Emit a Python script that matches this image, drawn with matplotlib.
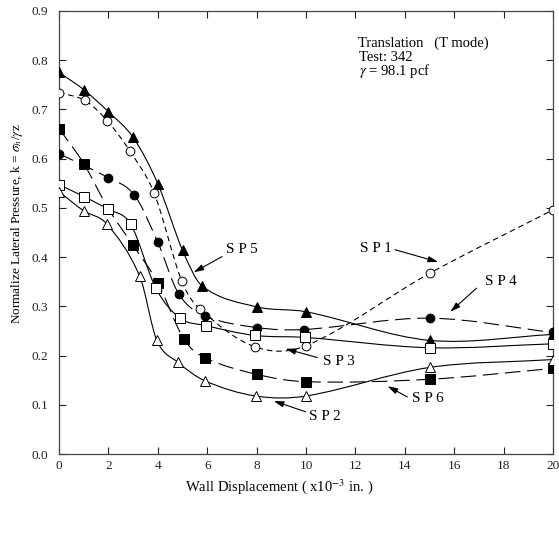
import matplotlib
matplotlib.use("Agg")
import matplotlib.pyplot as plt
import numpy as np
from matplotlib.path import Path
from matplotlib.patches import PathPatch

plt.rcParams['font.family'] = ['Liberation Serif', 'DejaVu Serif']
plt.rcParams['mathtext.fontset'] = 'stix'

# Data
sp5_x = [0, 1, 2, 3, 4, 5, 5.8, 8, 10, 15, 20]
sp5_y = [0.775, 0.74, 0.695, 0.643, 0.549, 0.414, 0.341, 0.299, 0.289, 0.231, 0.243]

sp1_x = [0, 1.05, 1.95, 2.87, 3.85, 4.97, 5.7, 7.92, 10, 15, 20]
sp1_y = [0.734, 0.718, 0.677, 0.615, 0.53, 0.351, 0.295, 0.218, 0.22, 0.367, 0.496]

sp4_x = [0, 2, 3.05, 4, 4.85, 5.9, 8, 9.9, 15, 20]
sp4_y = [0.61, 0.561, 0.526, 0.43, 0.325, 0.281, 0.257, 0.253, 0.276, 0.247]

sp6_x = [0, 1, 2, 3, 4, 5.05, 5.9, 8, 10, 15, 20]
sp6_y = [0.661, 0.59, 0.498, 0.424, 0.348, 0.234, 0.196, 0.162, 0.147, 0.152, 0.174]

sp3_x = [0, 1, 2, 2.9, 3.92, 4.9, 5.94, 7.92, 9.95, 15, 20]
sp3_y = [0.547, 0.523, 0.497, 0.467, 0.337, 0.276, 0.261, 0.241, 0.237, 0.216, 0.224]

sp2_x = [0, 1, 1.94, 3.27, 3.96, 4.8, 5.9, 7.96, 10, 15, 20]
sp2_y = [0.533, 0.494, 0.467, 0.361, 0.231, 0.187, 0.149, 0.118, 0.118, 0.176, 0.192]

x_ticks = [0, 2, 4, 6, 8, 10, 12, 14, 16, 18, 20]
y_ticks = [0.0, 0.1, 0.2, 0.3, 0.4, 0.5, 0.6, 0.7, 0.8, 0.9]


def smooth_path(xs, ys):
    # cubic Hermite through the points, written as Bezier segments
    xs = np.asarray(xs, float)
    ys = np.asarray(ys, float)
    n = len(xs)
    m = np.zeros(n)
    for i in range(n):
        if i == 0:
            m[i] = (ys[1] - ys[0]) / (xs[1] - xs[0])
        elif i == n - 1:
            m[i] = (ys[-1] - ys[-2]) / (xs[-1] - xs[-2])
        else:
            m[i] = (ys[i + 1] - ys[i - 1]) / (xs[i + 1] - xs[i - 1])
    verts = [(xs[0], ys[0])]
    codes = [Path.MOVETO]
    for i in range(n - 1):
        dx = xs[i + 1] - xs[i]
        verts += [(xs[i] + dx / 3, ys[i] + m[i] * dx / 3),
                  (xs[i + 1] - dx / 3, ys[i + 1] - m[i + 1] * dx / 3),
                  (xs[i + 1], ys[i + 1])]
        codes += [Path.CURVE4] * 3
    return Path(verts, codes)


fig = plt.figure(figsize=(5.59, 5.4), dpi=100)
ax = fig.add_axes([0.1055, 0.159, 0.884, 0.821])

series = [
    (sp5_x, sp5_y, '-', '^', 'black'),
    (sp1_x, sp1_y, (0, (5, 3.5)), 'o', 'white'),
    (sp4_x, sp4_y, (0, (14, 6)), 'o', 'black'),
    (sp6_x, sp6_y, (0, (14, 6)), 's', 'black'),
    (sp3_x, sp3_y, '-', 's', 'white'),
    (sp2_x, sp2_y, '-', '^', 'white'),
]

for xs, ys, ls, mk, fc in series:
    patch = PathPatch(smooth_path(xs, ys), facecolor='none', edgecolor='black',
                      linewidth=0.8, linestyle=ls, zorder=2)
    ax.add_patch(patch)

for xs, ys, ls, mk, fc in series:
    ms = 6.3 if mk == 'o' else 6.5
    ax.plot(xs, ys, linestyle='none', marker=mk, markersize=ms,
            markerfacecolor=fc, markeredgecolor='black', markeredgewidth=0.7, zorder=3)

ax.set_xlim(0, 20)
ax.set_ylim(0, 0.9)
ax.set_xticks(x_ticks)
ax.set_yticks(y_ticks)
ax.set_xticklabels([str(t) for t in x_ticks])
ax.set_yticklabels([f"{t:.1f}" for t in y_ticks])
ax.tick_params(direction='in', length=5, width=0.8, labelsize=9.5, colors='#222222',
               top=True, right=True)
ax.tick_params(axis='y', pad=8)
ax.tick_params(axis='x', pad=4)
for sp in ax.spines.values():
    sp.set_linewidth(0.9)
    sp.set_color('#444444')

ax.set_xlabel(r"Wall Displacement ( x10$^{-3}$ in. )", fontsize=10.5)
ax.xaxis.set_label_coords(0.445, -0.052)
ax.set_ylabel(r"Normalize Lateral Pressure, k = $\sigma_h$/$\gamma$z", fontsize=9.5)
ax.yaxis.set_label_coords(-0.068, 0.52)

ax.text(12.1, 0.834, "Translation   (T mode)", fontsize=10.5, va='center')
ax.text(12.15, 0.806, "Test: 342", fontsize=10.5, va='center')
ax.text(12.15, 0.777, r"$\gamma$ = 98.1 pcf", fontsize=10.5, va='center')

labels = [
    ("S P 5", (6.75, 0.416), (6.6, 0.401), (5.45, 0.369)),
    ("S P 1", (12.2, 0.418), (13.6, 0.415), (15.35, 0.39)),
    ("S P 4", (17.25, 0.35), (16.9, 0.337), (15.84, 0.289)),
    ("S P 3", (10.67, 0.188), (10.46, 0.196), (9.17, 0.214)),
    ("S P 2", (10.1, 0.077), (9.98, 0.086), (8.69, 0.108)),
    ("S P 6", (14.3, 0.112), (14.1, 0.116), (13.3, 0.138)),
]
for txt, pos, tail, head in labels:
    ax.text(pos[0], pos[1], txt, fontsize=11, va='center', ha='left')
    ax.annotate("", xy=head, xytext=tail,
                arrowprops=dict(arrowstyle='-|>,head_length=0.6,head_width=0.18',
                                lw=0.8, color='black', shrinkA=0, shrinkB=0,
                                mutation_scale=10))

fig.savefig("out.png", dpi=100, facecolor='white')
